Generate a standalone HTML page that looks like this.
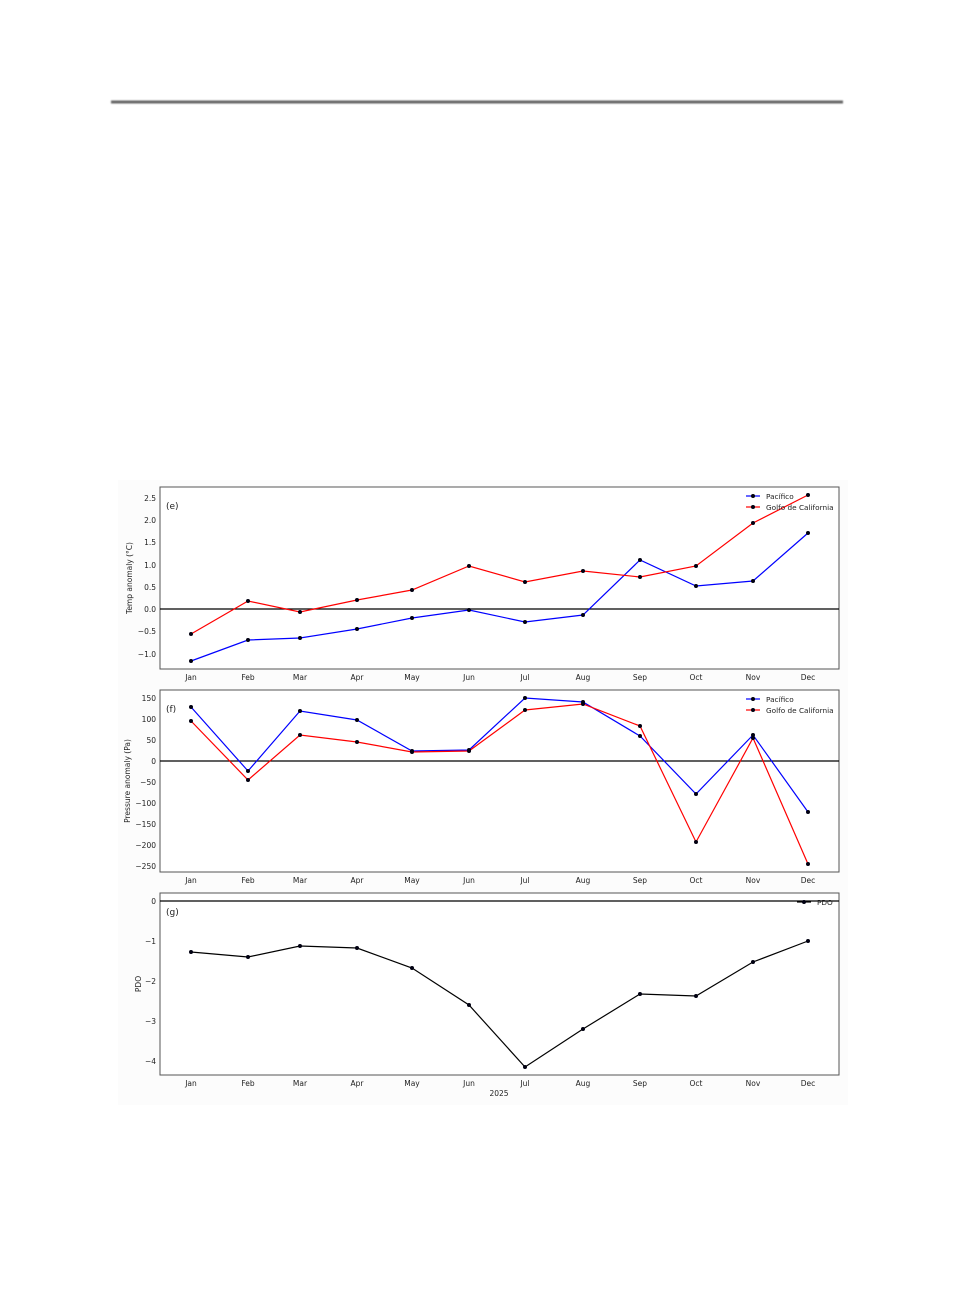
<!DOCTYPE html>
<html><head><meta charset="utf-8"><style>
html,body{margin:0;padding:0;background:#fff;width:960px;height:1304px;overflow:hidden}
svg{display:block}
text{font-family:"DejaVu Sans","Liberation Sans",sans-serif;fill:#222}
</style></head><body>
<svg width="960" height="1304" viewBox="0 0 960 1304">
<defs><filter id="b" filterUnits="userSpaceOnUse" x="100" y="90" width="760" height="25"><feGaussianBlur stdDeviation="0.8"/></filter></defs>
<rect x="111" y="100.5" width="732" height="3" fill="#666" filter="url(#b)"/>
<rect x="118" y="480" width="730" height="625" fill="#fcfcfc"/>
<g fill="#fff" stroke="#555" stroke-width="1">
<rect x="160" y="487" width="679" height="182"/>
<rect x="160" y="690" width="679" height="182"/>
<rect x="160" y="893" width="679" height="182"/>
</g>
<g font-size="7.5" text-anchor="end">
<text x="156" y="501">2.5</text><text x="156" y="523">2.0</text><text x="156" y="545">1.5</text><text x="156" y="568">1.0</text><text x="156" y="590">0.5</text><text x="156" y="612">0.0</text><text x="156" y="634">−0.5</text><text x="156" y="657">−1.0</text>
<text x="156" y="701">150</text><text x="156" y="722">100</text><text x="156" y="743">50</text><text x="156" y="764">0</text><text x="156" y="785">−50</text><text x="156" y="806">−100</text><text x="156" y="827">−150</text><text x="156" y="848">−200</text><text x="156" y="869">−250</text>
<text x="156" y="904">0</text><text x="156" y="944">−1</text><text x="156" y="984">−2</text><text x="156" y="1024">−3</text><text x="156" y="1064">−4</text>
</g>
<g font-size="7.5" text-anchor="middle">
<g id="m1"><text x="191" y="680">Jan</text><text x="248" y="680">Feb</text><text x="300" y="680">Mar</text><text x="357" y="680">Apr</text><text x="412" y="680">May</text><text x="469" y="680">Jun</text><text x="525" y="680">Jul</text><text x="583" y="680">Aug</text><text x="640" y="680">Sep</text><text x="696" y="680">Oct</text><text x="753" y="680">Nov</text><text x="808" y="680">Dec</text></g>
<use href="#m1" y="203"/><use href="#m1" y="406"/>
<text x="499" y="1096">2025</text>
<text transform="translate(132,578) rotate(-90)">Temp anomaly (°C)</text>
<text transform="translate(130,781) rotate(-90)">Pressure anomaly (Pa)</text>
<text transform="translate(141,984) rotate(-90)">PDO</text>
</g>
<g font-size="9"><text x="166" y="509">(e)</text><text x="166" y="712">(f)</text><text x="166" y="915">(g)</text></g>
<g stroke="#000" stroke-width="1.2"><line x1="160" y1="609" x2="839" y2="609"/><line x1="160" y1="761" x2="839" y2="761"/><line x1="160" y1="901" x2="839" y2="901"/></g>
<g fill="none" stroke-width="1.2">
<polyline stroke="#00f" points="191,661 248,640 300,638 357,629 412,618 469,610 525,622 583,615 640,560 696,586 753,581 808,533"/>
<polyline stroke="#f00" points="191,634 248,601 300,612 357,600 412,590 469,566 525,582 583,571 640,577 696,566 753,523 808,495"/>
<polyline stroke="#00f" points="191,707 248,771 300,711 357,720 412,751 469,750 525,698 583,702 640,736 696,794 753,735 808,812"/>
<polyline stroke="#f00" points="191,721 248,780 300,735 357,742 412,752 469,751 525,710 583,704 640,726 696,842 753,738 808,864"/>
<polyline stroke="#000" points="191,952 248,957 300,946 357,948 412,968 469,1005 525,1067 583,1029 640,994 696,996 753,962 808,941"/>
<line stroke="#00f" x1="746" y1="496" x2="760" y2="496"/><line stroke="#f00" x1="746" y1="507" x2="760" y2="507"/>
<line stroke="#00f" x1="746" y1="699" x2="760" y2="699"/><line stroke="#f00" x1="746" y1="710" x2="760" y2="710"/>
<line stroke="#000" x1="797" y1="902" x2="811" y2="902"/>
</g>
<g fill="#001">
<circle cx="191" cy="661" r="2"/><circle cx="248" cy="640" r="2"/><circle cx="300" cy="638" r="2"/><circle cx="357" cy="629" r="2"/><circle cx="412" cy="618" r="2"/><circle cx="469" cy="610" r="2"/><circle cx="525" cy="622" r="2"/><circle cx="583" cy="615" r="2"/><circle cx="640" cy="560" r="2"/><circle cx="696" cy="586" r="2"/><circle cx="753" cy="581" r="2"/><circle cx="808" cy="533" r="2"/>
<circle cx="191" cy="634" r="2"/><circle cx="248" cy="601" r="2"/><circle cx="300" cy="612" r="2"/><circle cx="357" cy="600" r="2"/><circle cx="412" cy="590" r="2"/><circle cx="469" cy="566" r="2"/><circle cx="525" cy="582" r="2"/><circle cx="583" cy="571" r="2"/><circle cx="640" cy="577" r="2"/><circle cx="696" cy="566" r="2"/><circle cx="753" cy="523" r="2"/><circle cx="808" cy="495" r="2"/>
<circle cx="191" cy="707" r="2"/><circle cx="248" cy="771" r="2"/><circle cx="300" cy="711" r="2"/><circle cx="357" cy="720" r="2"/><circle cx="412" cy="751" r="2"/><circle cx="469" cy="750" r="2"/><circle cx="525" cy="698" r="2"/><circle cx="583" cy="702" r="2"/><circle cx="640" cy="736" r="2"/><circle cx="696" cy="794" r="2"/><circle cx="753" cy="735" r="2"/><circle cx="808" cy="812" r="2"/>
<circle cx="191" cy="721" r="2"/><circle cx="248" cy="780" r="2"/><circle cx="300" cy="735" r="2"/><circle cx="357" cy="742" r="2"/><circle cx="412" cy="752" r="2"/><circle cx="469" cy="751" r="2"/><circle cx="525" cy="710" r="2"/><circle cx="583" cy="704" r="2"/><circle cx="640" cy="726" r="2"/><circle cx="696" cy="842" r="2"/><circle cx="753" cy="738" r="2"/><circle cx="808" cy="864" r="2"/>
<circle cx="191" cy="952" r="2"/><circle cx="248" cy="957" r="2"/><circle cx="300" cy="946" r="2"/><circle cx="357" cy="948" r="2"/><circle cx="412" cy="968" r="2"/><circle cx="469" cy="1005" r="2"/><circle cx="525" cy="1067" r="2"/><circle cx="583" cy="1029" r="2"/><circle cx="640" cy="994" r="2"/><circle cx="696" cy="996" r="2"/><circle cx="753" cy="962" r="2"/><circle cx="808" cy="941" r="2"/>
<circle cx="753" cy="496" r="2"/><circle cx="753" cy="507" r="2"/><circle cx="753" cy="699" r="2"/><circle cx="753" cy="710" r="2"/><circle cx="804" cy="902" r="2"/>
</g>
<g font-size="7.3">
<text x="766" y="499">Pacífico</text><text x="766" y="510">Golfo de California</text>
<text x="766" y="702">Pacífico</text><text x="766" y="713">Golfo de California</text>
<text x="817" y="905">PDO</text>
</g>
</svg>
</body></html>
